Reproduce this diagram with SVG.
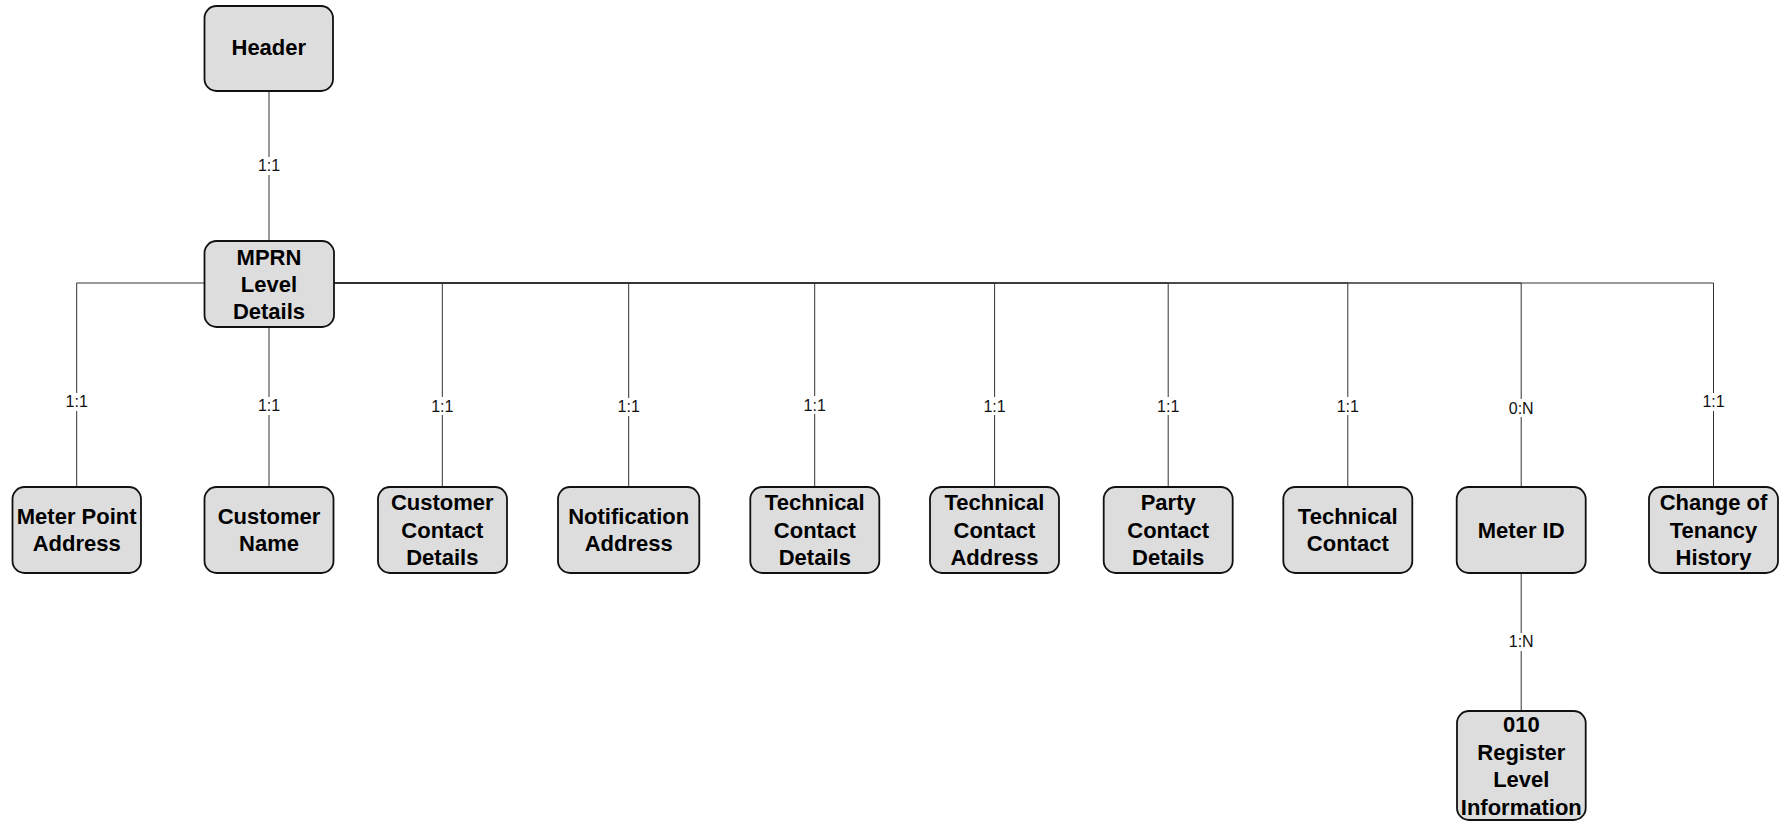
<svg xmlns="http://www.w3.org/2000/svg" width="1783" height="822" viewBox="0 0 1783 822">
<style>
.box{fill:#dddddd;stroke:#111;stroke-width:1.8}
.t{font-family:"Liberation Sans",Arial,sans-serif;font-weight:bold;font-size:22px;fill:#000;text-anchor:middle}
.c{fill:none;stroke:#333;stroke-width:1}
.lb{fill:#fff}
.l{font-family:"Liberation Sans",Arial,sans-serif;font-size:16px;fill:#111;text-anchor:middle}
</style>
<rect width="1783" height="822" fill="#fff"/>
<g id="connectors">
<path class="c" d="M269,91V241"/>
<path class="c" d="M204.5,283H76.7V487"/>
<path class="c" d="M269,327V487"/>
<path class="c" d="M334,283H442.3V487"/>
<path class="c" d="M334,283H628.7V487"/>
<path class="c" d="M334,283H814.7V487"/>
<path class="c" d="M334,283H994.6V487"/>
<path class="c" d="M334,283H1168.2V487"/>
<path class="c" d="M334,283H1347.8V487"/>
<path class="c" d="M334,283H1521.2V487"/>
<path class="c" d="M334,283H1713.5V487"/>
<path class="c" d="M1521.2,573V711"/>
<g id="labels">
<rect class="lb" x="255" y="157" width="28" height="18"/><text class="l" x="269" y="171.4">1:1</text>
<rect class="lb" x="62.7" y="393" width="28" height="18"/><text class="l" x="76.7" y="407.4">1:1</text>
<rect class="lb" x="255" y="397" width="28" height="18"/><text class="l" x="269" y="411.4">1:1</text>
<rect class="lb" x="428.3" y="397" width="28" height="18"/><text class="l" x="442.3" y="411.7">1:1</text>
<rect class="lb" x="614.7" y="398" width="28" height="18"/><text class="l" x="628.7" y="412.4">1:1</text>
<rect class="lb" x="800.7" y="396" width="28" height="18"/><text class="l" x="814.7" y="410.7">1:1</text>
<rect class="lb" x="980.6" y="397" width="28" height="18"/><text class="l" x="994.6" y="411.7">1:1</text>
<rect class="lb" x="1154.2" y="397" width="28" height="18"/><text class="l" x="1168.2" y="411.7">1:1</text>
<rect class="lb" x="1333.8" y="397" width="28" height="18"/><text class="l" x="1347.8" y="411.7">1:1</text>
<rect class="lb" x="1504.2" y="399" width="34" height="18"/><text class="l" x="1521.2" y="413.7">0:N</text>
<rect class="lb" x="1699.5" y="393" width="28" height="18"/><text class="l" x="1713.5" y="407.4">1:1</text>
<rect class="lb" x="1504.2" y="633" width="34" height="18"/><text class="l" x="1521.2" y="647.4">1:N</text>
</g>
</g>
<g id="header"><rect class="box" x="204.5" y="6" width="128.5" height="85" rx="12"/><text class="t" x="268.8" y="55.3">Header</text></g>
<g id="mprn"><rect class="box" x="204.5" y="241" width="129.5" height="86" rx="12"/><text class="t"><tspan x="269" y="264.6">MPRN</tspan><tspan x="269" y="291.9">Level</tspan><tspan x="269" y="319.2">Details</tspan></text></g>
<g id="meter-point-address"><rect class="box" x="12.5" y="487" width="128.5" height="86" rx="12"/><text class="t"><tspan x="76.7" y="523.9">Meter Point</tspan><tspan x="76.7" y="551.2">Address</tspan></text></g>
<g id="customer-name"><rect class="box" x="204.5" y="487" width="129" height="86" rx="12"/><text class="t"><tspan x="269" y="523.9">Customer</tspan><tspan x="269" y="551.2">Name</tspan></text></g>
<g id="customer-contact-details"><rect class="box" x="378" y="487" width="129" height="86" rx="12"/><text class="t"><tspan x="442.3" y="510.2">Customer</tspan><tspan x="442.3" y="537.7">Contact</tspan><tspan x="442.3" y="565">Details</tspan></text></g>
<g id="notification-address"><rect class="box" x="558" y="487" width="141.3" height="86" rx="12"/><text class="t"><tspan x="628.7" y="523.9">Notification</tspan><tspan x="628.7" y="551.2">Address</tspan></text></g>
<g id="technical-contact-details"><rect class="box" x="750.3" y="487" width="129" height="86" rx="12"/><text class="t"><tspan x="814.8" y="510.2">Technical</tspan><tspan x="814.8" y="537.7">Contact</tspan><tspan x="814.8" y="565">Details</tspan></text></g>
<g id="technical-contact-address"><rect class="box" x="930" y="487" width="129" height="86" rx="12"/><text class="t"><tspan x="994.5" y="510.2">Technical</tspan><tspan x="994.5" y="537.7">Contact</tspan><tspan x="994.5" y="565">Address</tspan></text></g>
<g id="party-contact-details"><rect class="box" x="1103.7" y="487" width="129" height="86" rx="12"/><text class="t"><tspan x="1168.2" y="510.2">Party</tspan><tspan x="1168.2" y="537.7">Contact</tspan><tspan x="1168.2" y="565">Details</tspan></text></g>
<g id="technical-contact"><rect class="box" x="1283.3" y="487" width="129" height="86" rx="12"/><text class="t"><tspan x="1347.8" y="523.9">Technical</tspan><tspan x="1347.8" y="551.2">Contact</tspan></text></g>
<g id="meter-id"><rect class="box" x="1456.7" y="487" width="129" height="86" rx="12"/><text class="t" x="1521.2" y="537.6">Meter ID</text></g>
<g id="change-of-tenancy-history"><rect class="box" x="1649" y="487" width="129" height="86" rx="12"/><text class="t"><tspan x="1713.5" y="510.2">Change of</tspan><tspan x="1713.5" y="537.7">Tenancy</tspan><tspan x="1713.5" y="565">History</tspan></text></g>
<g id="register-level-information"><rect class="box" x="1457" y="711" width="128.7" height="109" rx="12"/><text class="t"><tspan x="1521.3" y="732.2">010</tspan><tspan x="1521.3" y="759.6">Register</tspan><tspan x="1521.3" y="786.9">Level</tspan><tspan x="1521.3" y="814.6">Information</tspan></text></g>
</svg>
